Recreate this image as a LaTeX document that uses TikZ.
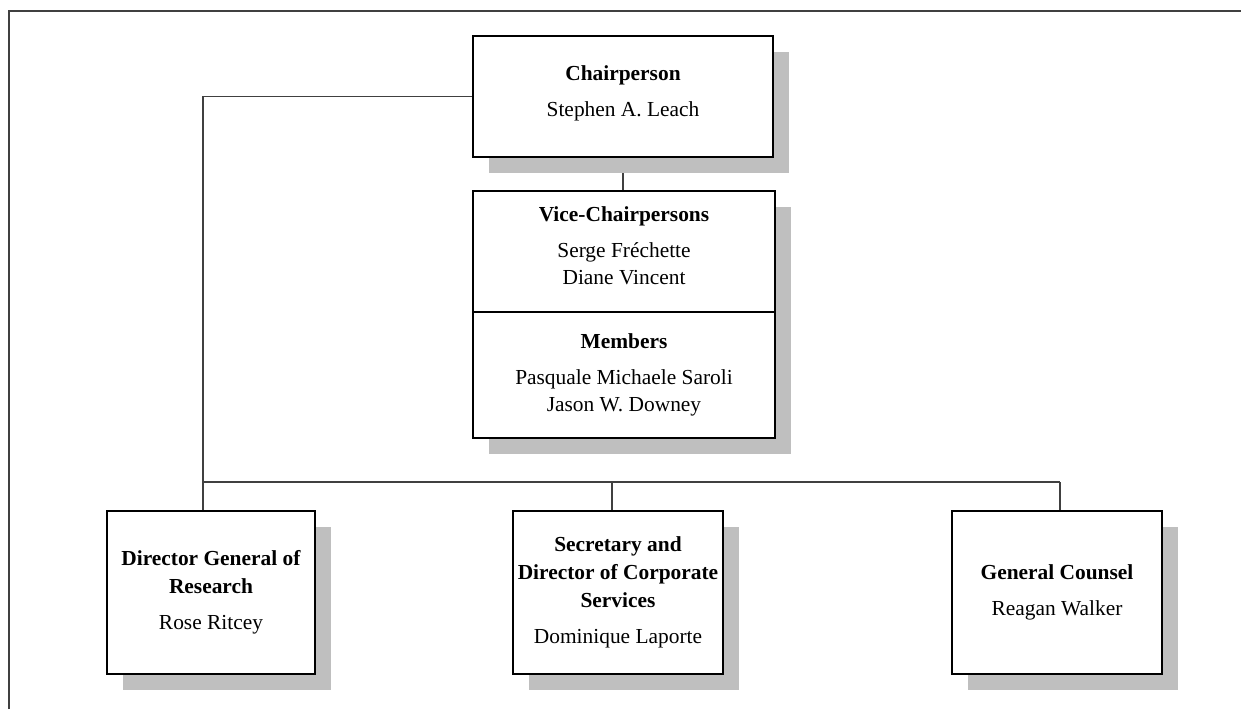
\documentclass[tikz,border=0pt]{standalone}
\usepackage{fontspec}
\setmainfont{Liberation Serif}
\usetikzlibrary{shadows,backgrounds,positioning}

\begin{document}
\begin{tikzpicture}[x=0.5pt,y=-0.5pt]
\tikzstyle{post}=[rectangle, draw=black, line width=0.7pt, fill=white, align=center, inner sep=2pt,
  font=\fontsize{10.7}{14}\selectfont,
  drop shadow={shadow xshift=8pt, shadow yshift=-8pt, fill=black!25, opacity=1}]
\tikzstyle{link}=[draw=black!75, line width=0.8pt]
\useasboundingbox (0,0) rectangle (1241,709);
\draw [black!75, line width=1pt] (9,709) -- (9,10.5) -- (1241,10.5);
\node [post, minimum width=150pt, minimum height=60.5pt] (CHAIR) at (623,96.5) {\textbf{Chairperson}\\[4pt]Stephen A. Leach\\[-8.5pt]};
\node [post, minimum width=151pt, minimum height=60.5pt] (VICE) at (624,251.5) {\textbf{Vice-Chairpersons}\\[4pt]Serge Fréchette\\[-0.5pt]Diane Vincent\\[-8pt]};
\node [post, minimum width=151pt, minimum height=63pt] (MEMBERS) at (624,375) {\textbf{Members}\\[4pt]Pasquale Michaele Saroli\\[-0.5pt]Jason W. Downey};
\node [post, minimum width=104pt, minimum height=81.5pt] (DG) at (211,592.5) {\textbf{Director General of}\\\textbf{Research}\\[4pt]Rose Ritcey};
\node [post, minimum width=105pt, minimum height=81.5pt] (SEC) at (618,592.5) {\textbf{Secretary and}\\\textbf{Director of Corporate}\\\textbf{Services}\\[4pt]Dominique Laporte\\[-11.5pt]};
\node [post, minimum width=105pt, minimum height=81.5pt] (GC) at (1057,592.5) {\textbf{General Counsel}\\[4pt]Reagan Walker};
% bus taps
\coordinate (tapL) at (203,482);
\coordinate (tapM) at (612,482);
\coordinate (tapR) at (1060,482);
\coordinate (tapC) at (623,0);
\begin{scope}[on background layer]
\path [link] (CHAIR.west) -| (tapL) -- (tapR);
\path [link] (tapC |- CHAIR.south) -- (tapC |- VICE.north);
\path [link] (tapL) -- (tapL |- DG.north);
\path [link] (tapM) -- (tapM |- SEC.north);
\path [link] (tapR) -- (tapR |- GC.north);
\end{scope}
\end{tikzpicture}
\end{document}
